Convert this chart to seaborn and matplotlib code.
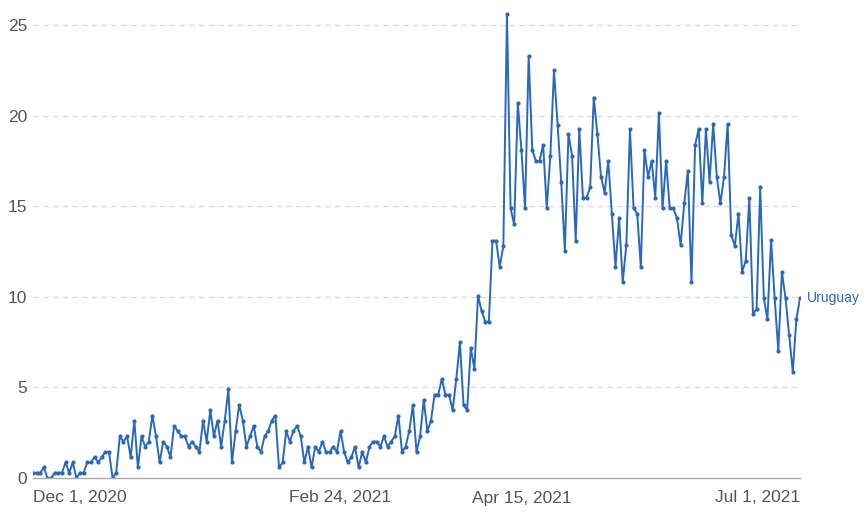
import matplotlib
matplotlib.use("Agg")
import matplotlib.pyplot as plt
import seaborn as sns
import pandas as pd

# daily values per month
dec = [0.29, 0.29, 0.29, 0.58, 0, 0, 0.29, 0.29, 0.29, 0.86, 0.29, 0.86, 0, 0.29, 0.29, 0.86,
       0.86, 1.15, 0.86, 1.15, 1.44, 1.44, 0, 0.29, 2.3, 2.01, 2.3, 1.15, 3.17, 0.58, 2.3]
jan = [1.73, 2.01, 3.45, 2.3, 0.86, 2.01, 1.73, 1.15, 2.88, 2.59, 2.3, 2.3, 1.73, 2.01, 1.73, 1.44,
       3.17, 2.01, 3.74, 2.3, 3.17, 1.73, 3.17, 4.89, 0.86, 2.59, 4.03, 3.17, 1.73, 2.3, 2.88]
feb = [1.73, 1.44, 2.3, 2.59, 3.17, 3.45, 0.58, 0.86, 2.59, 2.01, 2.59, 2.88, 2.3, 0.86,
       1.73, 0.58, 1.73, 1.44, 2.01, 1.44, 1.44, 1.73, 1.44, 2.59, 1.44, 0.86, 1.15, 1.73]
mar = [0.58, 1.44, 0.86, 1.73, 2.01, 2.01, 1.73, 2.3, 1.73, 2.01, 2.3, 3.45, 1.44, 1.73, 2.59, 4.03,
       1.44, 2.3, 4.32, 2.59, 3.17, 4.6, 4.6, 5.47, 4.6, 4.6, 3.74, 5.47, 7.48, 4.03, 3.74]
apr = [7.19, 6.04, 10.07, 9.21, 8.63, 8.63, 13.1, 13.1, 11.66, 12.8, 25.6, 14.88, 14.0, 20.7, 18.1,
       14.9, 23.3, 18.1, 17.5, 17.5, 18.4, 14.9, 17.8, 22.5, 19.5, 16.35, 12.55, 18.97, 17.8, 13.1]
may = [19.24, 15.47, 15.47, 16.04, 21.0, 18.97, 16.63, 15.75, 17.5, 14.6, 11.66, 14.33, 10.8, 12.86,
       19.24, 14.88, 14.6, 11.66, 18.1, 16.63, 17.5, 15.47, 20.13, 14.88, 17.5, 14.88, 14.88, 14.33,
       12.86, 15.16, 16.94]
jun = [10.8, 18.38, 19.26, 15.16, 19.26, 16.35, 19.55, 16.63, 15.16, 16.63, 19.55, 13.41, 12.82,
       14.6, 11.39, 11.97, 15.47, 9.05, 9.33, 16.04, 9.92, 8.76, 13.13, 9.92, 7.03, 11.39, 9.92,
       7.89, 5.87, 8.76]
jul = [9.92]

country = "Uruguay"
tick_dates = ["2020-12-01", "2021-02-24", "2021-04-15", "2021-07-01"]
tick_labels = ["Dec 1, 2020", "Feb 24, 2021", "Apr 15, 2021", "Jul 1, 2021"]
y_ticks = [0, 5, 10, 15, 20, 25]

values = dec + jan + feb + mar + apr + may + jun + jul
df = pd.DataFrame({
    "date": pd.date_range("2020-12-01", periods=len(values), freq="D"),
    "value": values,
})

color = "#2a68bb"
sns.set_style("white")
plt.rcParams["font.family"] = ["Liberation Sans", "DejaVu Sans"]

fig = plt.figure(figsize=(8.66, 5.2), dpi=100)
ax = fig.add_axes([33 / 866, 42 / 520, 767 / 866, 471 / 520])

sns.lineplot(data=df, x="date", y="value", ax=ax, color=color, linewidth=1.4,
             marker="o", markersize=3, markeredgewidth=0)

ax.set_xlim(df["date"].iloc[0], df["date"].iloc[-1])
ax.set_ylim(0, 26)
ax.set_xlabel("")
ax.set_ylabel("")

ax.set_yticks(y_ticks)
ax.set_yticklabels([str(v) for v in y_ticks])
ax.set_xticks(pd.to_datetime(tick_dates))
ax.set_xticklabels(tick_labels)
labels = ax.get_xticklabels()
labels[0].set_ha("left")
labels[-1].set_ha("right")

ax.tick_params(axis="x", length=6, width=1, color="#999999", colors="#555555",
               labelsize=12.5, pad=3)
ax.tick_params(axis="y", length=0, colors="#555555", labelsize=12.5, pad=4)

for v in y_ticks[1:]:
    ax.axhline(v, color="#dddddd", linewidth=1, linestyle=(0, (4, 3)), zorder=0)

for side in ["top", "right", "left"]:
    ax.spines[side].set_visible(False)
ax.spines["bottom"].set_color("#aaaaaa")
ax.spines["bottom"].set_linewidth(1)

last = df.iloc[-1]
ax.annotate(country, xy=(last["date"], last["value"]), xytext=(5, 0),
            textcoords="offset points", color=color, fontsize=10, va="center",
            annotation_clip=False)

fig.savefig("out.png", dpi=100)
